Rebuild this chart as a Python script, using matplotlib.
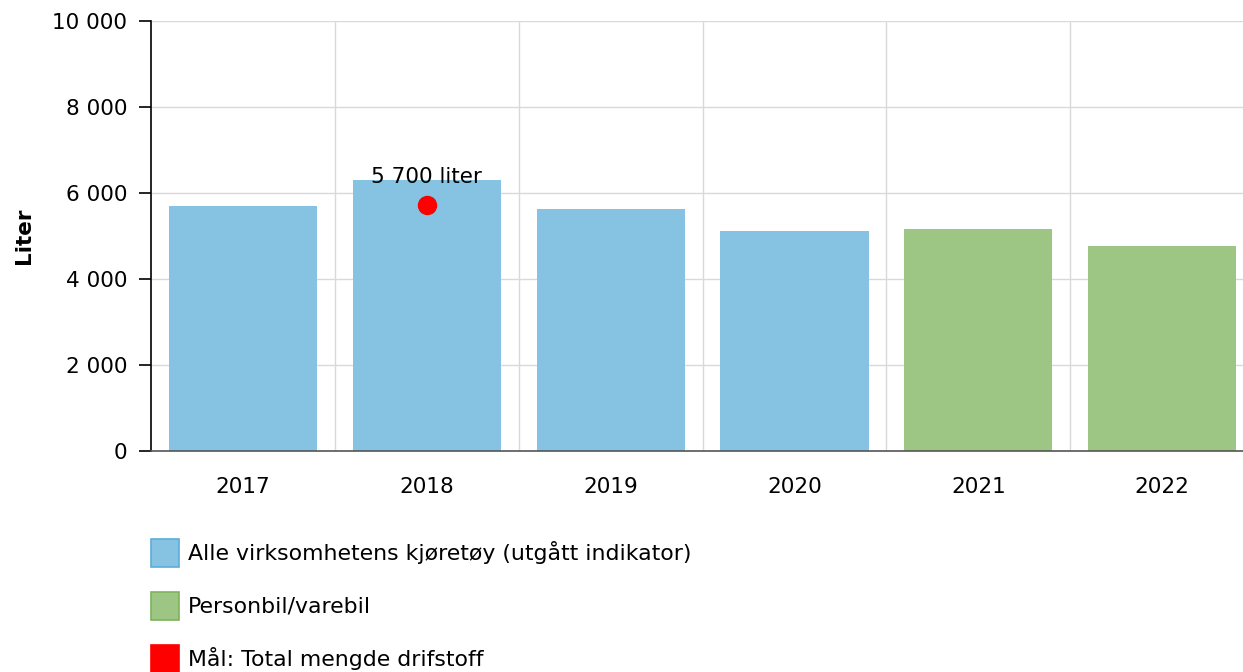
import matplotlib
matplotlib.use("Agg")
import matplotlib.pyplot as plt
import matplotlib.patches as mpatches
import numpy as np

YEARS = ["2017", "2018", "2019", "2020", "2021", "2022"]
ALLE = [5700, 6300, 5630, 5120, np.nan, np.nan]
PERSONBIL = [np.nan, np.nan, np.nan, np.nan, 5160, 4770]
MAAL_YEAR = "2018"
MAAL = 5720
YTICKS = [0, 2000, 4000, 6000, 8000, 10000]

BLUE, BLUE_EDGE = "#86c3e2", "#5aaed9"
GREEN, GREEN_EDGE = "#9dc583", "#7db35d"
RED = "#ff0000"

plt.rcParams["font.family"] = ["DejaVu Sans"]

W, H = 1243, 672
fig = plt.figure(figsize=(W / 100, H / 100), dpi=100)
ax = fig.add_axes([151 / W, (H - 451) / H, (W - 151) / W, 430 / H])

x = np.arange(len(YEARS))
ax.bar(x, ALLE, width=0.806, color=BLUE, zorder=2)
ax.bar(x, PERSONBIL, width=0.806, color=GREEN, zorder=2)

mx = YEARS.index(MAAL_YEAR)
ax.plot([mx], [MAAL], "o", color=RED, markersize=13, zorder=4)
ax.text(mx, MAAL + 420, "5 700 liter", ha="center", va="bottom",
        fontsize=15.5, color="black", zorder=5)

ax.set_xlim(-0.5, 5.44)
ax.set_ylim(0, 10000)
ax.set_yticks(YTICKS)
ax.set_yticklabels([f"{v:,}".replace(",", " ") for v in YTICKS], fontsize=15.5)
ax.set_xticks(x)
ax.set_xticklabels(YEARS, fontsize=15.5)
ax.tick_params(axis="x", length=0, pad=19)
ax.tick_params(axis="y", length=9, width=1.2, color="black", pad=8)

ax.set_xticks(np.arange(0.5, 5.5, 1), minor=True)
ax.tick_params(axis="x", which="minor", length=0)
ax.grid(axis="y", color="#d9d9d9", lw=1, zorder=0)
ax.grid(axis="x", which="minor", color="#d9d9d9", lw=1, zorder=0)
ax.set_axisbelow(True)

for sp in ("top", "right"):
    ax.spines[sp].set_visible(False)
ax.spines["left"].set_color("black")
ax.spines["left"].set_linewidth(1.2)
ax.spines["bottom"].set_color("#555555")
ax.spines["bottom"].set_linewidth(1.2)

fig.text(24 / W, 1 - 236 / H, "Liter", rotation=90, ha="center", va="center",
         fontsize=15.5, fontweight="bold")

# legend drawn by hand, one row per series
legend = [("Alle virksomhetens kjøretøy (utgått indikator)", BLUE, BLUE_EDGE),
          ("Personbil/varebil", GREEN, GREEN_EDGE),
          ("Mål: Total mengde drifstoff", RED, RED)]
for i, (lab, fc, ec) in enumerate(legend):
    yc = 553 + i * 53
    fig.add_artist(mpatches.Rectangle((151 / W, 1 - (yc + 14) / H), 28 / W, 28 / H,
                                      facecolor=fc, edgecolor=ec, lw=1.2,
                                      transform=fig.transFigure))
    fig.text(188 / W, 1 - yc / H, lab, ha="left", va="center", fontsize=15.8)

fig.savefig("out.png", dpi=100, facecolor="white")
